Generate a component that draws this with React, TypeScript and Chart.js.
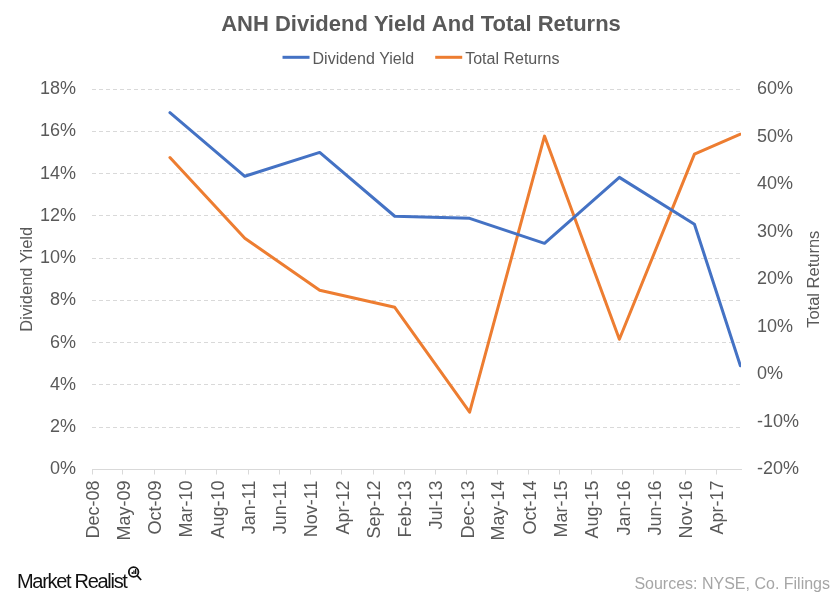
import React, { useEffect, useRef } from "react";
import { Chart, registerables } from "chart.js";

Chart.register(...registerables);

// ---------- data ----------
const tickLabels = [
  "Dec-08", "May-09", "Oct-09", "Mar-10", "Aug-10", "Jan-11", "Jun-11",
  "Nov-11", "Apr-12", "Sep-12", "Feb-13", "Jul-13", "Dec-13", "May-14",
  "Oct-14", "Mar-15", "Aug-15", "Jan-16", "Jun-16", "Nov-16", "Apr-17",
];
const dates = [
  "2009-12-16", "2010-12-16", "2011-12-16", "2012-12-16", "2013-12-16",
  "2014-12-16", "2015-12-16", "2016-12-16", "2017-07-28",
];
const dividendYield = [16.88, 13.87, 15.0, 11.98, 11.88, 10.7, 13.82, 11.6, 4.91];
const totalReturns = [45.6, 28.6, 17.7, 14.1, -7.95, 50.1, 7.38, 46.3, 50.5];
const axisEndDate = "2017-07-31";
const leftTicks = { min: 0, max: 18, step: 2 };
const rightTicks = { min: -20, max: 60, step: 10 };

const seriesNames = ["Dividend Yield", "Total Returns"];
const seriesColors = ["#4472C4", "#ED7D31"];
const titleText = "ANH Dividend Yield And Total Returns";
const sourceText = "Sources: NYSE, Co. Filings";
const brandText = "Market Realist";

// ---------- helpers ----------
const MONTHS = ["Jan", "Feb", "Mar", "Apr", "May", "Jun", "Jul", "Aug", "Sep", "Oct", "Nov", "Dec"];
const DAY = 86400000;
const isoToDay = (s: string) => {
  const [y, m, d] = s.split("-").map(Number);
  return Date.UTC(y, m - 1, d) / DAY;
};
const labelToDay = (s: string) => {
  const [mon, yy] = s.split("-");
  return Date.UTC(2000 + Number(yy), MONTHS.indexOf(mon), 1) / DAY;
};
const tickDays = tickLabels.map(labelToDay);
const FONT = "'Liberation Sans', Arial, sans-serif";
const GREY = "#595959";

const decorPlugin = {
  id: "decor",
  afterDraw(chart: any) {
    const ctx: CanvasRenderingContext2D = chart.ctx;
    const area = chart.chartArea;
    ctx.save();
    // title
    ctx.fillStyle = GREY;
    ctx.font = `bold 22px ${FONT}`;
    ctx.textAlign = "center";
    ctx.textBaseline = "alphabetic";
    ctx.fillText(titleText, 421, 31);

    // legend
    ctx.font = `16px ${FONT}`;
    const lineLen = 27, gapText = 3, gapItem = 21;
    const widths = seriesNames.map((n) => ctx.measureText(n).width);
    const total = widths.reduce((a, w) => a + lineLen + gapText + w, 0) + gapItem * (seriesNames.length - 1);
    let x = 421 - total / 2;
    ctx.textAlign = "left";
    seriesNames.forEach((n, i) => {
      ctx.fillStyle = seriesColors[i];
      ctx.fillRect(x, 55.8, lineLen, 3);
      x += lineLen + gapText;
      ctx.fillStyle = GREY;
      ctx.fillText(n, x, 63.5);
      x += widths[i] + gapItem;
    });

    // axis titles
    const midY = (area.top + area.bottom) / 2;
    ctx.font = `16.5px ${FONT}`;
    ctx.textAlign = "center";
    ctx.textBaseline = "middle";
    ctx.fillStyle = GREY;
    ctx.save();
    ctx.translate(27, midY);
    ctx.rotate(-Math.PI / 2);
    ctx.fillText(seriesNames[0], 0, 0);
    ctx.restore();
    ctx.save();
    ctx.translate(814, midY);
    ctx.rotate(-Math.PI / 2);
    ctx.fillText(seriesNames[1], 0, 0);
    ctx.restore();

    // sources
    ctx.textBaseline = "alphabetic";
    ctx.textAlign = "right";
    ctx.fillStyle = "#A6A6A6";
    ctx.font = `16px ${FONT}`;
    ctx.fillText(sourceText, 830, 589);

    // brand
    ctx.textAlign = "left";
    ctx.fillStyle = "#111111";
    ctx.font = `20px ${FONT}`;
    (ctx as any).letterSpacing = "-1.3px";
    ctx.fillText(brandText, 17, 588);
    const bw = ctx.measureText(brandText).width;
    (ctx as any).letterSpacing = "0px";
    const cx = 17 + bw + 7, cy = 572;
    ctx.strokeStyle = "#111111";
    ctx.lineWidth = 1.8;
    ctx.beginPath();
    ctx.arc(cx, cy, 4.8, 0, Math.PI * 2);
    ctx.stroke();
    ctx.beginPath();
    ctx.moveTo(cx + 3.5, cy + 3.5);
    ctx.lineTo(cx + 7.5, cy + 8);
    ctx.stroke();
    ctx.fillStyle = "#111111";
    ctx.fillRect(cx - 2, cy, 1.3, 2);
    ctx.fillRect(cx - 0.3, cy - 1.5, 1.3, 3.5);
    ctx.fillRect(cx + 1.4, cy - 3, 1.3, 5);
    ctx.restore();
  },
};

export default function App() {
  const ref = useRef<HTMLCanvasElement | null>(null);

  useEffect(() => {
    document.body.style.margin = "0";
    const canvas = ref.current;
    if (!canvas) return;
    const xs = dates.map(isoToDay);
    const chart = new Chart(canvas, {
      type: "line",
      data: {
        datasets: [
          {
            label: seriesNames[0],
            data: xs.map((x, i) => ({ x, y: dividendYield[i] })),
            borderColor: seriesColors[0],
            backgroundColor: seriesColors[0],
            borderWidth: 3,
            pointRadius: 0,
            tension: 0,
            borderJoinStyle: "round",
            borderCapStyle: "round",
            yAxisID: "y",
          },
          {
            label: seriesNames[1],
            data: xs.map((x, i) => ({ x, y: totalReturns[i] })),
            borderColor: seriesColors[1],
            backgroundColor: seriesColors[1],
            borderWidth: 3,
            pointRadius: 0,
            tension: 0,
            borderJoinStyle: "round",
            borderCapStyle: "round",
            yAxisID: "y1",
          },
        ],
      },
      options: {
        responsive: false,
        animation: false,
        layout: { padding: { top: 89, left: 0, right: 0, bottom: 0 } },
        plugins: {
          legend: { display: false },
          title: { display: false },
          tooltip: { enabled: false },
        },
        scales: {
          x: {
            type: "linear",
            min: tickDays[0],
            max: isoToDay(axisEndDate),
            afterBuildTicks: (scale: any) => {
              scale.ticks = tickDays.map((v) => ({ value: v }));
            },
            afterFit: (scale: any) => {
              scale.height = 130.5;
            },
            grid: {
              drawOnChartArea: false,
              drawTicks: true,
              tickLength: 5,
              color: "#D9D9D9",
            },
            border: { display: true, color: "#D9D9D9", width: 1 },
            ticks: {
              autoSkip: false,
              minRotation: 90,
              maxRotation: 90,
              padding: 6,
              labelOffset: 2,
              color: GREY,
              font: { family: FONT, size: 18 },
              callback: (v: any) => {
                const i = tickDays.indexOf(Number(v));
                return i >= 0 ? tickLabels[i] : "";
              },
            },
          },
          y: {
            position: "left",
            min: leftTicks.min,
            max: leftTicks.max,
            afterFit: (scale: any) => {
              scale.width = 92;
            },
            grid: { color: "#D9D9D9", drawTicks: false, lineWidth: 1 },
            border: { display: false, dash: [4, 3] },
            ticks: {
              stepSize: leftTicks.step,
              padding: 16,
              color: GREY,
              font: { family: FONT, size: 18 },
              callback: (v: any) => `${v}%`,
            },
          },
          y1: {
            position: "right",
            min: rightTicks.min,
            max: rightTicks.max,
            afterFit: (scale: any) => {
              scale.width = 99;
            },
            grid: { display: false, drawTicks: false },
            border: { display: false },
            ticks: {
              stepSize: rightTicks.step,
              padding: 16,
              color: GREY,
              font: { family: FONT, size: 18 },
              callback: (v: any) => `${v}%`,
            },
          },
        },
      },
      plugins: [decorPlugin],
    } as any);
    return () => chart.destroy();
  }, []);

  return (
    <div style={{ width: 840, height: 600, background: "#fff" }}>
      <canvas ref={ref} width={840} height={600} style={{ width: 840, height: 600, display: "block" }} />
    </div>
  );
}
